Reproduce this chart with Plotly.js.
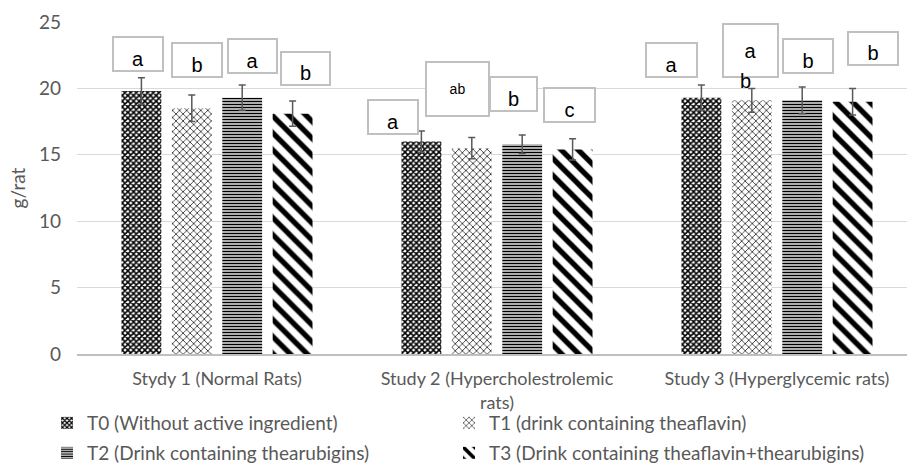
<!DOCTYPE html>
<html>
<head>
<meta charset="utf-8">
<script src="https://cdn.plot.ly/plotly-3.0.1.min.js"></script>
<style>html,body{margin:0;padding:0;background:#fff;}#chart{width:907px;height:470px;}</style>
</head>
<body>
<div id="chart"></div>
<script>
// ---- data ----
const categories = ['Stydy 1 (Normal Rats)', 'Study 2 (Hypercholestrolemic<br>rats)', 'Study 3 (Hyperglycemic rats)'];
const seriesNames = ['T0 (Without active ingredient)', 'T1 (drink containing theaflavin)', 'T2 (Drink containing thearubigins)', 'T3 (Drink containing theaflavin+thearubigins)'];
const t0Values = [19.8, 16.0, 19.3];
const t1Values = [18.5, 15.5, 19.1];
const t2Values = [19.3, 15.8, 19.1];
const t3Values = [18.1, 15.4, 19.0];
const t0Err = [1.0, 0.8, 0.95];
const t1Err = [1.0, 0.8, 0.9];
const t2Err = [0.95, 0.7, 1.0];
const t3Err = [0.95, 0.8, 1.0];
const t0Letters = ['a', 'a', 'a'];
const t1Letters = ['b', 'ab', 'a'];
const t2Letters = ['a', 'b', 'b'];
const t3Letters = ['b', 'c', 'b'];
const extraLetters = ['', '', 'b']; // second letter printed below the T1 box in study 3

// ---- styles / layout helpers ----
const FONT = 'Lato, "Open Sans", Arial, sans-serif';
const GREY = '#595959';
const patterns = [
  {shape: 'x', size: 4, solidity: 0.62, fgcolor: '#000000', bgcolor: '#ffffff'},
  {shape: 'x', size: 5, solidity: 0.32, fgcolor: '#3a3a3a', bgcolor: '#ffffff'},
  {shape: '-', size: 3, solidity: 0.55, fgcolor: '#000000', bgcolor: '#ffffff'},
  {shape: '\\', size: 12, solidity: 0.45, fgcolor: '#000000', bgcolor: '#ffffff'}
];
const valuesAll = [t0Values, t1Values, t2Values, t3Values];
const errAll = [t0Err, t1Err, t2Err, t3Err];
const lettersAll = [t0Letters, t1Letters, t2Letters, t3Letters];
const legendOf = ['legend', 'legend2', 'legend3', 'legend4'];

const traces = valuesAll.map((vals, i) => ({
  type: 'bar', name: seriesNames[i], x: categories, y: vals,
  legend: legendOf[i],
  marker: {color: '#ffffff', line: {width: 0}, pattern: patterns[i]},
  error_y: {type: 'data', array: errAll[i], visible: true, color: GREY, thickness: 1.5, width: 3.5},
  hoverinfo: 'skip'
}));

// box placement per [study][treatment]: x shift (px) from bar centre, y centre (data units), box w,h (px), valign
const boxPlace = [
  [[-3.5, 22.6, 50, 34, 'bottom'], [5, 22.14, 50, 34, 'bottom'], [10, 22.44, 49, 34, 'bottom'], [13, 21.51, 49, 33, 'bottom']],
  [[-28.4, 17.85, 50, 34, 'bottom'], [-14.3, 19.65, 63, 54, 'middle'], [-8.7, 19.58, 47, 34, 'bottom'], [-3.1, 18.75, 51, 34, 'bottom']],
  [[-29.9, 22.16, 51, 34, 'bottom'], [-1.3, 22.85, 55, 53, 'middle'], [5.8, 22.44, 50, 34, 'bottom'], [20.4, 23.0, 50, 33, 'bottom']]
];
const slot = 0.18;
const LETTER_FONT = 'Liberation Sans, Arial, sans-serif';
const annotations = [];
for (let s = 0; s < 3; s++) {
  for (let t = 0; t < 4; t++) {
    const p = boxPlace[s][t];
    const small = lettersAll[t][s].length > 1;
    annotations.push({
      xref: 'x', yref: 'y', x: s + (t - 1.5) * slot, y: p[1], xshift: p[0],
      xanchor: 'center', yanchor: 'middle', showarrow: false,
      text: lettersAll[t][s], width: p[2] - 2, height: p[3] - 2, valign: p[4], align: 'center',
      bgcolor: '#ffffff', bordercolor: '#c0c0c0', borderwidth: 2, borderpad: 0,
      yshift: small ? 4 : 0,
      font: {family: LETTER_FONT, size: small ? 14 : 20, color: '#000000'}
    });
  }
  if (extraLetters[s]) {
    annotations.push({
      xref: 'x', yref: 'y', x: s + (1 - 1.5) * slot, y: 20.55, xshift: -6.5,
      showarrow: false, text: extraLetters[s],
      font: {family: LETTER_FONT, size: 20, color: '#000000'}
    });
  }
}

const legendBase = {
  orientation: 'h', xref: 'container', yref: 'container', xanchor: 'left', yanchor: 'top',
  font: {family: FONT, size: 19, color: GREY}, bgcolor: 'rgba(0,0,0,0)'
};
const legendCol = [47 / 907, 449 / 907];
const legendRow = [1 - 404 / 470, 1 - 434 / 470];

const layout = {
  width: 907, height: 470,
  margin: {l: 77, r: 0, t: 22, b: 116},
  paper_bgcolor: '#ffffff', plot_bgcolor: '#ffffff',
  font: {family: FONT, color: GREY},
  barmode: 'group', bargap: 0.28, bargroupgap: 0.21,
  xaxis: {
    range: [-0.5, 2.4643], showgrid: false, zeroline: false,
    showline: true, linecolor: '#bfbfbf', linewidth: 1.5,
    ticks: '', tickfont: {family: FONT, size: 18, color: GREY}, ticklabelstandoff: 8,
    fixedrange: true
  },
  yaxis: {
    range: [0, 25], dtick: 5, tick0: 0, showgrid: true, gridcolor: '#d9d9d9', gridwidth: 1,
    zeroline: false, showline: false, ticks: '',
    tickfont: {family: FONT, size: 19, color: GREY}, ticklabelstandoff: 15,
    title: {text: 'g/rat', font: {family: FONT, size: 19, color: GREY}, standoff: 8},
    fixedrange: true
  },
  legend: Object.assign({}, legendBase, {x: legendCol[0], y: legendRow[0]}),
  legend2: Object.assign({}, legendBase, {x: legendCol[1], y: legendRow[0]}),
  legend3: Object.assign({}, legendBase, {x: legendCol[0], y: legendRow[1]}),
  legend4: Object.assign({}, legendBase, {x: legendCol[1], y: legendRow[1]}),
  annotations: annotations,
  showlegend: true
};

Plotly.newPlot('chart', traces, layout, {displayModeBar: false, staticPlot: true});
</script>
</body>
</html>
